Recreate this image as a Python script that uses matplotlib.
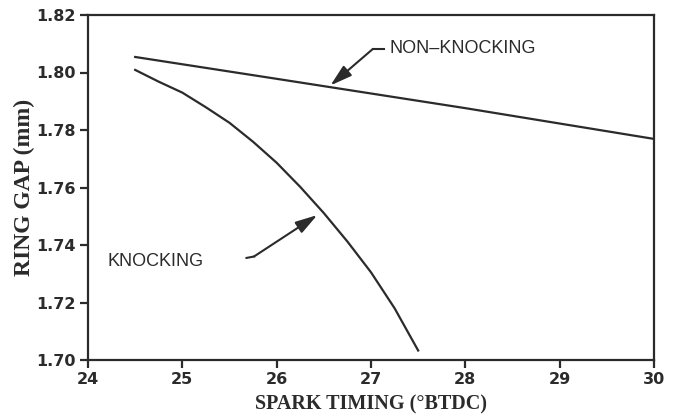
import matplotlib
matplotlib.use("Agg")
import matplotlib.pyplot as plt

# data
timing_nk = [24.5, 26.0, 28.0, 30.0]
gap_nk = [1.8054, 1.7978, 1.7876, 1.7769]

timing_k = [24.5, 24.75, 25.0, 25.25, 25.5, 25.75, 26.0,
            26.25, 26.5, 26.75, 27.0, 27.25, 27.5]
gap_k = [1.8009, 1.7968, 1.7930, 1.7879, 1.7825, 1.7759, 1.7686,
         1.7602, 1.7511, 1.7412, 1.7305, 1.7180, 1.7033]

xticks = [24, 25, 26, 27, 28, 29, 30]
yticks = [1.70, 1.72, 1.74, 1.76, 1.78, 1.80, 1.82]

ink = "#2b2b2b"

fig = plt.figure(figsize=(6.78, 4.18), dpi=100)
ax = fig.add_axes([88/678, 58/418, 566/678, 345/418])

ax.plot(timing_nk, gap_nk, color=ink, lw=1.6)
ax.plot(timing_k, gap_k, color=ink, lw=1.6)

ax.set_xlim(24, 30)
ax.set_ylim(1.70, 1.82)
ax.set_xticks(xticks)
ax.set_yticks(yticks)
ax.set_xticklabels([str(t) for t in xticks])
ax.set_yticklabels(["%.2f" % t for t in yticks])
for s in ax.spines.values():
    s.set_linewidth(1.6)
    s.set_color(ink)
ax.tick_params(direction="out", length=6, width=1.6, color=ink,
               labelsize=11.5, labelcolor=ink, pad=3)
for lab in ax.get_xticklabels() + ax.get_yticklabels():
    lab.set_fontweight("bold")

ax.set_xlabel("SPARK TIMING (°BTDC)", family="Liberation Serif",
              fontweight="bold", fontsize=14.5, color=ink, labelpad=5)
ax.set_ylabel("RING GAP (mm)", family="Liberation Serif",
              fontweight="bold", fontsize=17, color=ink, labelpad=1)

# annotations
arrow = dict(arrowstyle="-|>,head_length=0.95,head_width=0.28",
             color=ink, lw=1.5, mutation_scale=14, shrinkA=0, shrinkB=0)

ax.plot([27.02, 27.14], [1.8082, 1.8082], color=ink, lw=1.5)
ax.annotate("", xy=(26.57, 1.7955), xytext=(27.02, 1.8082), arrowprops=arrow)
ax.text(27.2, 1.8082, "NON–KNOCKING", family="Liberation Sans",
        fontsize=13, color=ink, va="center", ha="left")

ax.plot([25.68, 25.76], [1.7355, 1.7360], color=ink, lw=1.5)
ax.annotate("", xy=(26.43, 1.7504), xytext=(25.76, 1.7360), arrowprops=arrow)
ax.text(24.21, 1.7341, "KNOCKING", family="Liberation Sans",
        fontsize=13, color=ink, va="center", ha="left")

fig.savefig("out.png", dpi=100)
